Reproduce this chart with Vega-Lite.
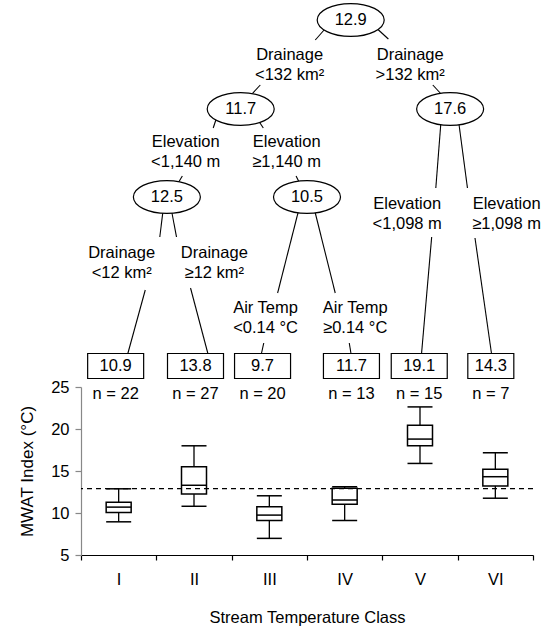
{
  "$schema": "https://vega.github.io/schema/vega-lite/v6.json",
  "padding": {"left": 18, "right": 0, "top": 0, "bottom": 0},
  "spacing": 0,
  "bounds": "flush",
  "config": {
    "view": {"stroke": null},
    "font": "Liberation Sans",
    "text": {"font": "Liberation Sans", "fontSize": 16.5, "color": "black"},
    "axis": {"labelFont": "Liberation Sans", "titleFont": "Liberation Sans", "labelColor": "black", "titleColor": "black", "titleFontWeight": "normal", "grid": false}
  },
  "datasets": {
    "boxes": [
      {"cls": "I", "lower": 8.95, "q1": 10.05, "median": 10.7, "q3": 11.28, "upper": 12.88},
      {"cls": "II", "lower": 10.8, "q1": 12.25, "median": 13.3, "q3": 15.5, "upper": 18.0},
      {"cls": "III", "lower": 6.98, "q1": 9.12, "median": 9.75, "q3": 10.74, "upper": 12.05},
      {"cls": "IV", "lower": 9.1, "q1": 11.05, "median": 11.55, "q3": 12.95, "upper": 13.12},
      {"cls": "V", "lower": 15.9, "q1": 18.0, "median": 18.8, "q3": 20.46, "upper": 22.63},
      {"cls": "VI", "lower": 11.76, "q1": 13.22, "median": 14.32, "q3": 15.2, "upper": 17.17}
    ],
    "overall": [{"mwat": 12.9}],
    "nodes": [
      {"pos": 3.58, "depth": 2.0, "mean": "12.9"},
      {"pos": 2.12, "depth": 10.9, "mean": "11.7"},
      {"pos": 4.9, "depth": 10.9, "mean": "17.6"},
      {"pos": 1.14, "depth": 19.7, "mean": "12.5"},
      {"pos": 3.0, "depth": 19.7, "mean": "10.5"}
    ],
    "leaves": [
      {"cls": "I", "pos": 0.46, "depth": 36.6, "mean": "10.9", "n": "n = 22"},
      {"cls": "II", "pos": 1.52, "depth": 36.6, "mean": "13.8", "n": "n = 27"},
      {"cls": "III", "pos": 2.41, "depth": 36.6, "mean": "9.7", "n": "n = 20"},
      {"cls": "IV", "pos": 3.59, "depth": 36.6, "mean": "11.7", "n": "n = 13"},
      {"cls": "V", "pos": 4.49, "depth": 36.6, "mean": "19.1", "n": "n = 15"},
      {"cls": "VI", "pos": 5.44, "depth": 36.6, "mean": "14.3", "n": "n = 7"}
    ],
    "splits": [
      {"pos": 2.77, "depth": 5.5, "rule": "Drainage\n<132 km²"},
      {"pos": 4.37, "depth": 5.5, "rule": "Drainage\n>132 km²"},
      {"pos": 1.39, "depth": 14.2, "rule": "Elevation\n<1,140 m"},
      {"pos": 2.73, "depth": 14.2, "rule": "Elevation\n≥1,140 m"},
      {"pos": 4.33, "depth": 20.4, "rule": "Elevation\n<1,098 m"},
      {"pos": 5.65, "depth": 20.4, "rule": "Elevation\n≥1,098 m"},
      {"pos": 0.54, "depth": 25.3, "rule": "Drainage\n<12 km²"},
      {"pos": 1.77, "depth": 25.3, "rule": "Drainage\n≥12 km²"},
      {"pos": 2.45, "depth": 30.8, "rule": "Air Temp\n<0.14 °C"},
      {"pos": 3.64, "depth": 30.8, "rule": "Air Temp\n≥0.14 °C"}
    ],
    "edges": [
      {"pos": 3.25, "depth": 2.8, "pos2": 3.11, "depth2": 4.0},
      {"pos": 2.38, "depth": 8.5, "pos2": 2.245, "depth2": 9.6},
      {"pos": 3.92, "depth": 2.8, "pos2": 4.08, "depth2": 3.9},
      {"pos": 4.67, "depth": 8.5, "pos2": 4.805, "depth2": 9.6},
      {"pos": 1.79, "depth": 12.0, "pos2": 1.755, "depth2": 12.8},
      {"pos": 2.35, "depth": 12.0, "pos2": 2.42, "depth2": 12.8},
      {"pos": 1.345, "depth": 17.6, "pos2": 1.25, "depth2": 18.8},
      {"pos": 2.855, "depth": 17.6, "pos2": 2.935, "depth2": 18.8},
      {"pos": 4.78, "depth": 12.0, "pos2": 4.71, "depth2": 18.8},
      {"pos": 5.01, "depth": 12.0, "pos2": 5.13, "depth2": 18.8},
      {"pos": 4.655, "depth": 23.7, "pos2": 4.52, "depth2": 35.4},
      {"pos": 5.23, "depth": 23.8, "pos2": 5.45, "depth2": 35.4},
      {"pos": 1.09, "depth": 21.0, "pos2": 1.046, "depth2": 23.7},
      {"pos": 1.2, "depth": 21.0, "pos2": 1.268, "depth2": 23.7},
      {"pos": 0.853, "depth": 29.0, "pos2": 0.62, "depth2": 35.4},
      {"pos": 1.454, "depth": 28.8, "pos2": 1.686, "depth2": 35.4},
      {"pos": 2.89, "depth": 21.0, "pos2": 2.61, "depth2": 29.3},
      {"pos": 3.1, "depth": 21.0, "pos2": 3.375, "depth2": 29.3},
      {"pos": 2.426, "depth": 34.3, "pos2": 2.394, "depth2": 35.4},
      {"pos": 3.561, "depth": 34.3, "pos2": 3.585, "depth2": 35.4}
    ]
  },
  "vconcat": [
    {
      "width": 452,
      "height": 387,
      "encoding": {
        "x": {"field": "pos", "type": "quantitative", "scale": {"domain": [0, 6], "nice": false, "zero": false}, "axis": null},
        "y": {"field": "depth", "type": "quantitative", "scale": {"domain": [0, 38.7], "reverse": true, "nice": false, "zero": false}, "axis": null}
      },
      "layer": [
        {
          "data": {"name": "edges"},
          "mark": {"type": "rule", "color": "black", "strokeWidth": 1.1},
          "encoding": {"x2": {"field": "pos2"}, "y2": {"field": "depth2"}}
        },
        {
          "data": {"name": "nodes"},
          "mark": {"type": "point", "shape": "M-1,0C-1,-0.27,-0.552,-0.49,0,-0.49C0.552,-0.49,1,-0.27,1,0C1,0.27,0.552,0.49,0,0.49C-0.552,0.49,-1,0.27,-1,0Z", "size": 4489, "filled": true, "fill": "white", "stroke": "black", "strokeWidth": 1.2, "opacity": 1}
        },
        {
          "data": {"name": "nodes"},
          "mark": {"type": "text", "baseline": "middle", "align": "center"},
          "encoding": {"text": {"field": "mean"}}
        },
        {
          "data": {"name": "leaves"},
          "transform": [{"filter": "datum.cls !== 'VI'"}],
          "mark": {"type": "point", "shape": "M-1,-0.446H1V0.446H-1Z", "size": 3136, "filled": true, "fill": "white", "stroke": "black", "strokeWidth": 1.2, "opacity": 1}
        },
        {
          "data": {"name": "leaves"},
          "transform": [{"filter": "datum.cls === 'VI'"}],
          "mark": {"type": "point", "shape": "M-1,-0.543H1V0.543H-1Z", "size": 2116, "filled": true, "fill": "white", "stroke": "black", "strokeWidth": 1.2, "opacity": 1}
        },
        {
          "data": {"name": "leaves"},
          "mark": {"type": "text", "baseline": "middle", "align": "center"},
          "encoding": {"text": {"field": "mean"}}
        },
        {
          "data": {"name": "leaves"},
          "mark": {"type": "text", "baseline": "middle", "align": "center", "dy": 28},
          "encoding": {"text": {"field": "n"}}
        },
        {
          "data": {"name": "splits"},
          "mark": {"type": "text", "baseline": "middle", "align": "center", "lineBreak": "\n", "lineHeight": 20},
          "encoding": {"text": {"field": "rule"}}
        }
      ]
    },
    {
      "width": 452,
      "height": 168,
      "data": {"name": "boxes"},
      "encoding": {
        "x": {
          "field": "cls", "type": "ordinal", "sort": ["I", "II", "III", "IV", "V", "VI"],
          "scale": {"paddingInner": 0, "paddingOuter": 0},
          "axis": {"title": "Stream Temperature Class", "labelAngle": 0, "labelFontSize": 16.5, "titleFontSize": 16.5, "tickBand": "extent", "tickSize": 5, "labelPadding": 11, "titlePadding": 22, "domainColor": "black", "tickColor": "black", "domainWidth": 1.2, "tickWidth": 1.2}
        }
      },
      "layer": [
        {
          "mark": {"type": "rule", "color": "black", "strokeWidth": 1.3},
          "encoding": {
            "y": {"field": "lower", "type": "quantitative", "scale": {"domain": [5, 25], "nice": false, "zero": false},
              "axis": {"title": "MWAT Index (°C)", "values": [5, 7.5, 10, 12.5, 15, 17.5, 20, 22.5, 25], "labelExpr": "datum.value % 5 === 0 ? datum.label : ''", "labelOverlap": false, "labelFontSize": 16.5, "titleFontSize": 17, "tickSize": {"condition": {"test": "datum.value % 5 === 0", "value": 6}, "value": 3}, "labelPadding": 6, "titlePadding": 14, "domainColor": "#888888", "tickColor": "#888888", "domainWidth": 1.2, "tickWidth": 1.2}},
            "y2": {"field": "upper"}
          }
        },
        {
          "mark": {"type": "bar", "size": 25, "fill": "white", "stroke": "black", "strokeWidth": 1.5},
          "encoding": {"y": {"field": "q1", "type": "quantitative"}, "y2": {"field": "q3"}}
        },
        {
          "mark": {"type": "tick", "size": 25, "thickness": 1.5, "color": "black", "opacity": 1},
          "encoding": {"y": {"field": "median", "type": "quantitative"}}
        },
        {
          "mark": {"type": "tick", "size": 25, "thickness": 1.5, "color": "black", "opacity": 1},
          "encoding": {"y": {"field": "lower", "type": "quantitative"}}
        },
        {
          "mark": {"type": "tick", "size": 25, "thickness": 1.5, "color": "black", "opacity": 1},
          "encoding": {"y": {"field": "upper", "type": "quantitative"}}
        },
        {
          "data": {"name": "overall"},
          "mark": {"type": "rule", "color": "black", "strokeWidth": 1.2, "strokeDash": [5, 4]},
          "encoding": {"y": {"field": "mwat", "type": "quantitative"}, "x": null}
        }
      ]
    }
  ]
}
